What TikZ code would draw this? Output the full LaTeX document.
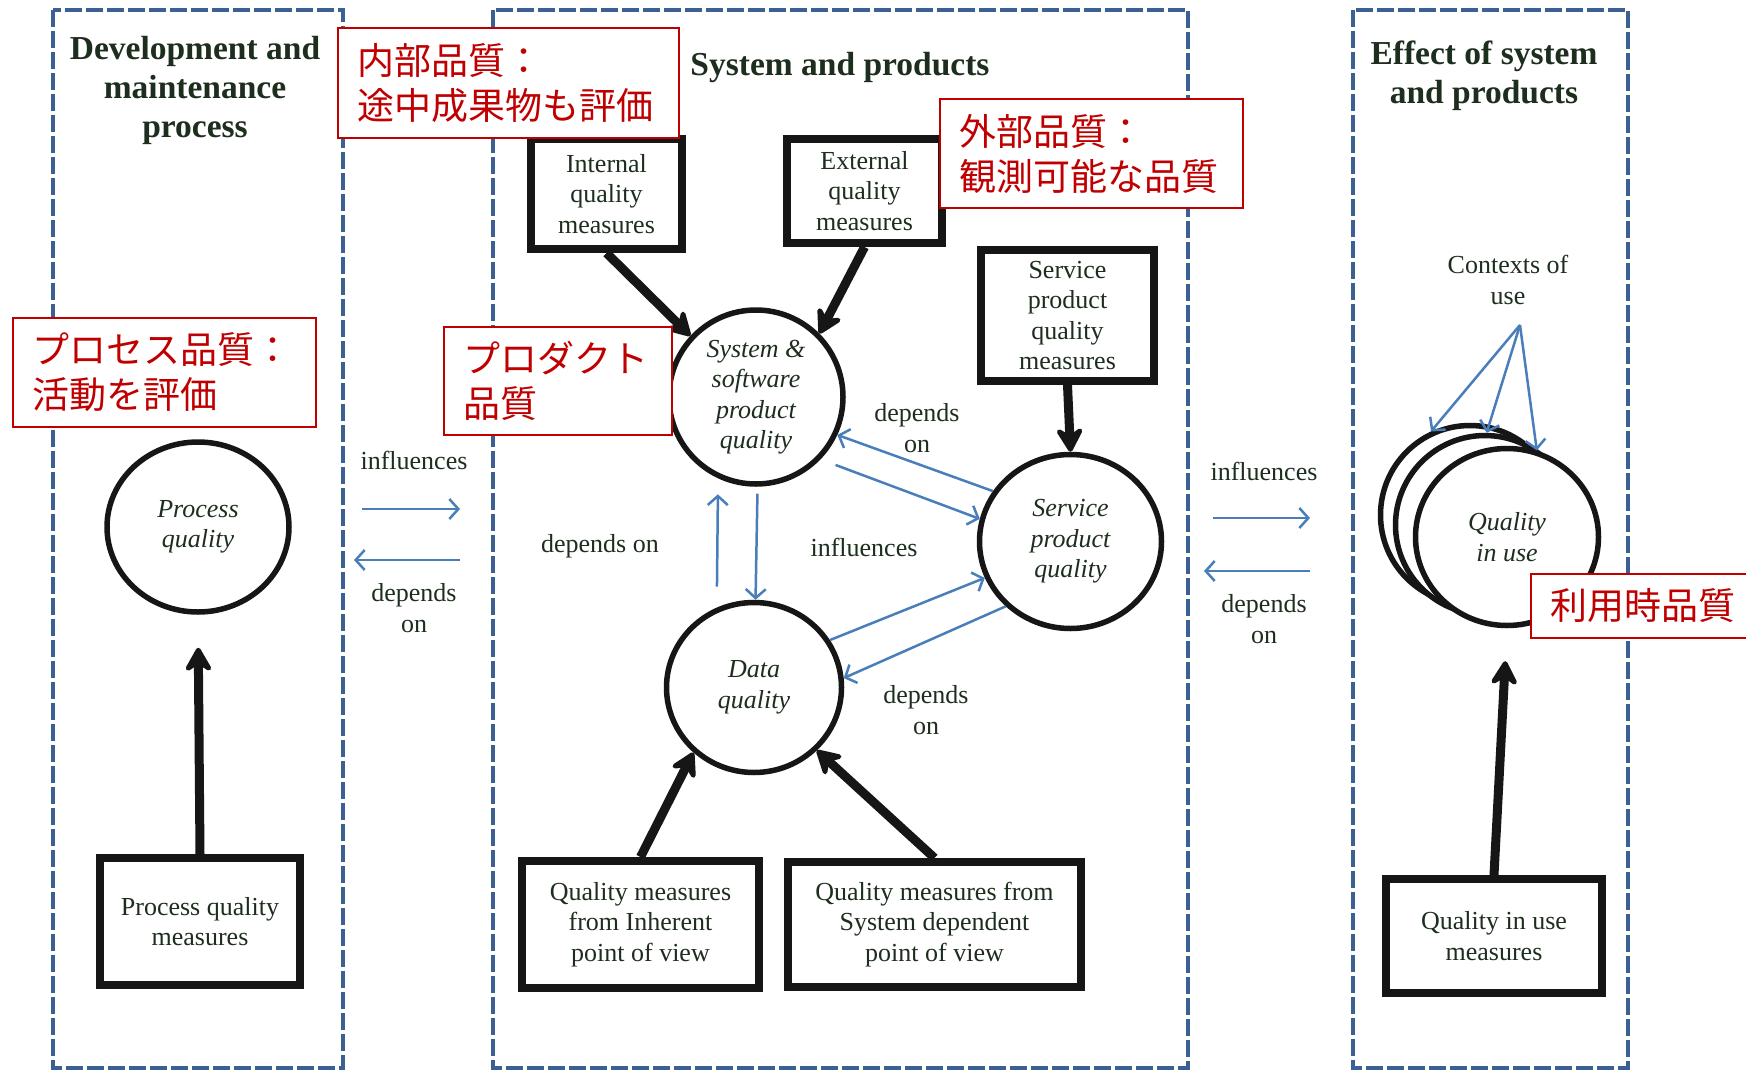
\documentclass[tikz,border=0pt]{standalone}
\usepackage{fontspec}
\setmainfont{Liberation Serif}
\newfontfamily\jpfont{Noto Sans CJK JP}
\usetikzlibrary{shapes.geometric,arrows.meta}

\definecolor{framecol}{RGB}{60,96,148}
\definecolor{linkcol}{RGB}{74,126,187}
\definecolor{notecol}{RGB}{192,0,0}
\definecolor{inkcol}{RGB}{30,46,30}
\definecolor{linecol}{RGB}{22,22,22}

\tikzset{
  frame/.style={draw=framecol, line width=4pt, dash pattern=on 17pt off 4pt},
  title/.style={font=\bfseries\fontsize{33.5}{39}\selectfont, text=inkcol, align=center, inner sep=0pt},
  lbl/.style={font=\fontsize{26}{30.5}\selectfont, text=inkcol, align=center, inner sep=0pt},
  mbox/.style={draw=linecol, line width=8pt, fill=white, align=center,
    font=\fontsize{26}{30.5}\selectfont, text=inkcol, inner sep=0pt},
  qcirc/.style={ellipse, draw=linecol, line width=5.5pt, fill=white, align=center,
    font=\itshape\fontsize{26}{30.5}\selectfont, text=inkcol, inner sep=0pt},
  note/.style={draw=notecol, line width=2pt, fill=white, text=notecol, align=left,
    font=\jpfont\fontsize{37}{45}\selectfont, inner xsep=19pt, inner ysep=0pt, anchor=north west},
  barrow/.style={draw=linecol, line width=9pt, -{Stealth[length=30pt,width=34pt,inset=11pt,round]}},
  larrow/.style={draw=linkcol, line width=2.5pt, -{Straight Barb[length=9pt,width=20pt]}},
}

\begin{document}
\begin{tikzpicture}[x=1pt, y=-1pt]
\useasboundingbox (0,0) rectangle (1746,1071);
\fill[white] (0,0) rectangle (1746,1071);

% dashed column frames
\draw[frame] (53,10) rectangle (343,1068);
\draw[frame] (493,10) rectangle (1188,1068);
\draw[frame] (1353,10) rectangle (1628,1068);

% column titles
\node[title] (t1) at (195,90) {Development and\\maintenance\\process};
\node[title] (t2) at (840,67) {System and products};
\node[title] (t3) at (1484,76) {Effect of system\\and products};

% measure boxes
\node[mbox, minimum width=151pt, minimum height=110pt] (im) at (606.5,194) {Internal\\quality\\measures};
\node[mbox, minimum width=155pt, minimum height=104pt] (em) at (864.5,191) {External\\quality\\measures};
\node[mbox, minimum width=173pt, minimum height=131pt] (sm) at (1067.5,315.5) {Service\\product\\quality\\measures};
\node[mbox, minimum width=200pt, minimum height=127pt] (pm) at (200,921.5) {Process quality\\measures};
\node[mbox, minimum width=237pt, minimum height=127pt] (ih) at (640.5,924.5) {Quality measures\\from Inherent\\point of view};
\node[mbox, minimum width=293pt, minimum height=125pt] (sd) at (934.5,924.5) {Quality measures from\\System dependent\\point of view};
\node[mbox, minimum width=216pt, minimum height=114pt] (qm) at (1494,936) {Quality in use\\measures};

% quality characteristics
\node[qcirc, minimum width=182pt, minimum height=170pt] (pq) at (198,527) {Process\\quality};
\node[qcirc, minimum width=174pt, minimum height=174pt] (sw) at (756,397) {System \&\\software\\product\\quality};
\node[qcirc, minimum width=182pt, minimum height=174pt] (svc) at (1070.5,541.5) {Service\\product\\quality};
\node[qcirc, minimum width=175pt, minimum height=170pt] (dq) at (754,687.5) {Data\\quality};
\node[qcirc, minimum width=179pt, minimum height=179pt] (qb) at (1470,515) {};
\node[qcirc, minimum width=179pt, minimum height=179pt] (qc) at (1485,525) {};
\node[qcirc, minimum width=183pt, minimum height=177pt] (qf) at (1507,537) {Quality\\in use};

% relation labels
\node[lbl] (l1) at (414,460) {influences};
\node[lbl] (l2) at (414,608) {depends\\on};
\node[lbl] (l3) at (1264,471) {influences};
\node[lbl] (l4) at (1264,619) {depends\\on};
\node[lbl] (l5) at (600,546) {depends on};
\node[lbl] (l6) at (864,547) {influences};
\node[lbl] (l7) at (917,428) {depends\\on};
\node[lbl] (l8) at (926,710) {depends\\on};
\node[lbl] (l9) at (1508,280) {Contexts of\\use};

% influence / dependency arrows between columns
\coordinate (g1a) at (362,509);  \coordinate (g1b) at (460,509);
\coordinate (g2a) at (460,560);  \coordinate (g2b) at (354,560);
\coordinate (g3a) at (1213,518); \coordinate (g3b) at (1310,518);
\coordinate (g4a) at (1310,571); \coordinate (g4b) at (1204,571);
\draw[larrow] (g1a) -- (g1b);
\draw[larrow] (g2a) -- (g2b);
\draw[larrow] (g3a) -- (g3b);
\draw[larrow] (g4a) -- (g4b);

% arrows inside the product column
\draw[larrow] (svc.147) -- (sw.-25);
\draw[larrow, shorten <=16pt] (sw.-44) -- (svc.166);
\draw[larrow] (dq.32) -- (svc.203);
\draw[larrow] (svc.225) -- (dq.6);
\draw[larrow, shorten <=21pt, shorten >=16pt] (dq.115) -- (sw.-115);
\draw[larrow, shorten <=7pt] (sw.-89) -- (dq.89);

% contexts of use
\coordinate (cu) at (1520,325);
\draw[larrow] (cu) -- (qb.115);
\draw[larrow] (cu) -- (qc.89);
\draw[larrow] (cu) -- (qf.71);

% measurement arrows
\draw[barrow] (im.south) -- (sw.137);
\draw[barrow] (em.south) -- (sw.45);
\draw[barrow] (sm.south) -- (svc.north);
\draw[barrow, shorten >=33pt] (pm.north) -- (pq.south);
\draw[barrow] (ih.north) -- (dq.227);
\draw[barrow] (sd.north) -- (dq.-45);
\draw[barrow, shorten >=33pt] (qm.north) -- (qf.south);

% Japanese notes
\node[note, minimum width=341pt, minimum height=110pt, text width=303pt] (n1) at (337,27) {内部品質：\\途中成果物も評価};
\node[note, minimum width=303pt, minimum height=109pt, text width=265pt] (n2) at (939,98) {外部品質：\\観測可能な品質};
\node[note, minimum width=303pt, minimum height=109pt, text width=265pt] (n3) at (12,317) {プロセス品質：\\活動を評価};
\node[note, minimum width=228pt, minimum height=108pt, text width=190pt] (n4) at (443,326) {プロダクト\\品質};
\node[note, minimum width=220pt, minimum height=64pt, text width=190pt] (n5) at (1530,573) {利用時品質};
\end{tikzpicture}
\end{document}
